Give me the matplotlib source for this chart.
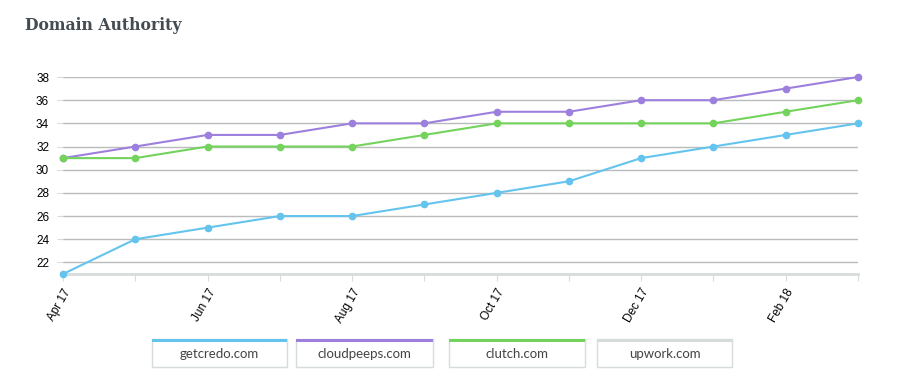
import matplotlib.pyplot as plt
from matplotlib.patches import Rectangle
import numpy as np

# Datos
meses = ['Apr 17', 'May 17', 'Jun 17', 'Jul 17', 'Aug 17', 'Sep 17', 'Oct 17',
         'Nov 17', 'Dec 17', 'Jan 18', 'Feb 18', 'Mar 18']
getcredo = [21, 24, 25, 26, 26, 27, 28, 29, 31, 32, 33, 34]
cloudpeeps = [31, 32, 33, 33, 34, 34, 35, 35, 36, 36, 37, 38]
clutch = [31, 31, 32, 32, 32, 33, 34, 34, 34, 34, 35, 36]
series = ['getcredo.com', 'cloudpeeps.com', 'clutch.com', 'upwork.com']
colores = ['#64c4ee', '#9d80dd', '#74d35c', '#d6dcdc']

W, H = 922, 383
fig = plt.figure(figsize=(W / 100, H / 100), dpi=100)
ax = fig.add_axes([63 / W, 1 - 274 / H, (858 - 63) / W, (274 - 77) / H])

x = np.arange(len(meses))
for vals, col in zip([getcredo, cloudpeeps, clutch], colores[:3]):
    ax.plot(x, vals, color=col, lw=1.5, marker='o', ms=4.5, clip_on=False, zorder=3)

ax.set_xlim(0, len(meses) - 1)
ax.set_ylim(21, 38)
ax.set_yticks(range(22, 39, 2))
ax.set_xticks(x)
ax.set_xticklabels([m if i % 2 == 0 else '' for i, m in enumerate(meses)],
                   rotation=60, ha='right', rotation_mode='anchor', fontsize=8.5,
                   family='Liberation Sans')
for lbl in ax.get_yticklabels():
    lbl.set_family('Liberation Sans')
    lbl.set_fontsize(8.5)

ax.grid(axis='y', color='#b8bcbc', lw=1)
ax.set_axisbelow(True)
for s in ['top', 'right', 'left']:
    ax.spines[s].set_visible(False)
ax.spines['bottom'].set_color('#d6dcdc')
ax.spines['bottom'].set_linewidth(2)
ax.tick_params(axis='y', length=4, color='#d6dcdc', pad=6)
ax.tick_params(axis='x', length=5, color='#d6dcdc', pad=4)

# Titulo
fig.text(25 / W, 1 - 25 / H, 'Domain Authority', fontsize=12.5, fontweight='bold',
         family='DejaVu Serif', fontstretch='condensed', color='#444c52', va='center')

# Leyenda con cajas
cajas = [(152, 287), (296, 433), (449, 585), (597, 732)]
y0, y1 = 339, 367
for (xa, xb), nombre, col in zip(cajas, series, colores):
    fig.patches.append(Rectangle((xa / W, 1 - y1 / H), (xb - xa) / W, (y1 - y0) / H,
                                 transform=fig.transFigure, fc='white',
                                 ec='#d6dcdc', lw=1))
    fig.patches.append(Rectangle((xa / W, 1 - (y0 + 3) / H), (xb - xa) / W, 3 / H,
                                 transform=fig.transFigure, fc=col, ec='none'))
    fig.text((xa + xb) / 2 / W, 1 - (y0 + y1 + 3) / 2 / H, nombre, fontsize=9.5,
             family='Lato', color='#444444', ha='center', va='center')

fig.savefig('out.png', dpi=100)
